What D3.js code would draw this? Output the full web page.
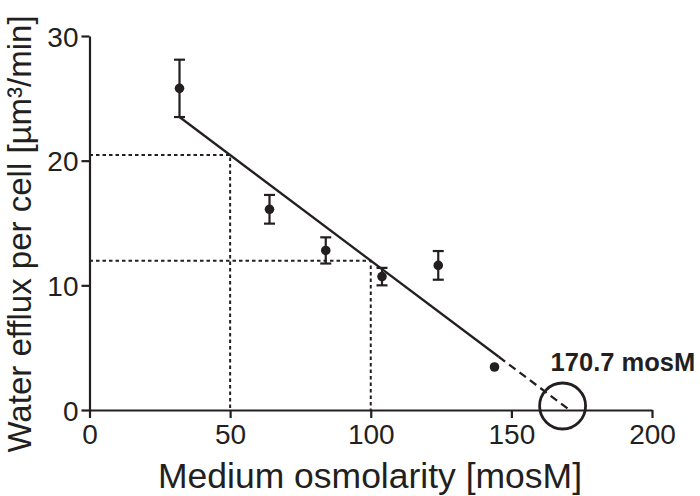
<!DOCTYPE html>
<html>
<head>
<meta charset="utf-8">
<script src="https://cdn.jsdelivr.net/npm/d3@7"></script>
<style>
  body { margin: 0; background: #fff; }
  svg { font-family: "Liberation Sans", Arial, sans-serif; }
</style>
</head>
<body>
<div id="chart"></div>
<script>
const svgWidth = 700;
const svgHeight = 496;

// data
const osmolarity = [32, 64, 84, 104, 124, 144];
const efflux = [25.8, 16.1, 12.8, 10.7, 11.6, 3.45];
const errors = [2.3, 1.15, 1.05, 0.7, 1.15, 0];
const xTicks = [0, 50, 100, 150, 200];
const yTicks = [0, 10, 20, 30];
const intercept = 170.7;       // x-intercept of the fit
const fitStart = 32;           // fit line starts here
const fitSolidEnd = 145.5;     // solid part ends, dashed extrapolation after
const fitAt32 = 23.5;          // fit value at x = 32
const guideX = [50, 100];      // dotted read-off lines

const margin = {top: 36, left: 89.5};
const width = 652 - margin.left;
const height = 410 - margin.top;

const x = d3.scaleLinear().domain([0, 200]).range([0, width]);
const y = d3.scaleLinear().domain([0, 30]).range([height, 0]);

const slope = fitAt32 / (intercept - fitStart);
const fit = v => slope * (intercept - v);

const svg = d3.select("#chart")
    .append("svg")
    .attr("width", svgWidth)
    .attr("height", svgHeight);

const g = svg.append("g")
    .attr("transform", "translate(" + margin.left + "," + margin.top + ")");

const ink = "#231f20";

// dotted read-off lines
guideX.forEach(function (gx) {
    const gy = fit(gx);
    g.append("path")
        .attr("d", "M" + x(0) + "," + y(gy) + "H" + x(gx) + "V" + y(0))
        .attr("fill", "none")
        .attr("stroke", ink)
        .attr("stroke-width", 2)
        .attr("stroke-dasharray", "3.5,3");
});

// axes
const xAxis = g.append("g")
    .attr("transform", "translate(0," + height + ")")
    .call(d3.axisBottom(x).tickValues(xTicks).tickSize(8).tickPadding(6).tickSizeOuter(0));
const yAxis = g.append("g")
    .call(d3.axisLeft(y).tickValues(yTicks).tickSize(8).tickPadding(3).tickSizeOuter(0));

[xAxis, yAxis].forEach(function (a) {
    a.select(".domain").attr("stroke", ink).attr("stroke-width", 2.2);
    a.selectAll(".tick line").attr("stroke", ink).attr("stroke-width", 2.2);
    a.selectAll(".tick text")
        .attr("fill", ink)
        .style("font-size", "28px")
        .style("font-family", "'Liberation Sans', Arial, sans-serif");
});
yAxis.selectAll(".tick text").attr("dy", "0.36em");

// fit line: solid over the data, dashed extrapolation to the intercept
g.append("line")
    .attr("x1", x(fitStart)).attr("y1", y(fit(fitStart)))
    .attr("x2", x(fitSolidEnd)).attr("y2", y(fit(fitSolidEnd)))
    .attr("stroke", ink).attr("stroke-width", 2.3);
g.append("line")
    .attr("x1", x(fitSolidEnd)).attr("y1", y(fit(fitSolidEnd)))
    .attr("x2", x(intercept)).attr("y2", y(0))
    .attr("stroke", ink).attr("stroke-width", 2.3)
    .attr("stroke-dasharray", "8,5");

// error bars
const bars = g.selectAll(".err")
    .data(osmolarity.map((d, i) => ({x: d, y: efflux[i], e: errors[i]})).filter(d => d.e > 0))
    .enter().append("g")
    .attr("class", "err");
bars.append("line")
    .attr("x1", d => x(d.x)).attr("x2", d => x(d.x))
    .attr("y1", d => y(d.y + d.e)).attr("y2", d => y(d.y - d.e))
    .attr("stroke", ink).attr("stroke-width", 2.2);
bars.selectAll(".cap")
    .data(d => [{x: d.x, v: d.y + d.e}, {x: d.x, v: d.y - d.e}])
    .enter().append("line")
    .attr("x1", d => x(d.x) - 5.5).attr("x2", d => x(d.x) + 5.5)
    .attr("y1", d => y(d.v)).attr("y2", d => y(d.v))
    .attr("stroke", ink).attr("stroke-width", 2.2);

// points
g.selectAll(".pt")
    .data(osmolarity)
    .enter().append("circle")
    .attr("cx", d => x(d))
    .attr("cy", (d, i) => y(efflux[i]))
    .attr("r", 4.8)
    .attr("fill", ink);

// circle marking the intercept
g.append("circle")
    .attr("cx", x(intercept) - 7)
    .attr("cy", y(0) - 4)
    .attr("r", 23)
    .attr("fill", "none")
    .attr("stroke", ink)
    .attr("stroke-width", 2.8);

g.append("text")
    .attr("x", x(intercept) - 19)
    .attr("y", y(0) - 39)
    .attr("fill", ink)
    .style("font-size", "25.5px")
    .style("font-weight", "bold")
    .text(intercept + " mosM");

// axis titles
svg.append("text")
    .attr("x", 370)
    .attr("y", 488)
    .attr("text-anchor", "middle")
    .attr("fill", ink)
    .style("font-size", "35.5px")
    .text("Medium osmolarity [mosM]");

svg.append("text")
    .attr("transform", "translate(31,234) rotate(-90)")
    .attr("text-anchor", "middle")
    .attr("fill", ink)
    .style("font-size", "33px")
    .text("Water efflux per cell [µm³/min]");
</script>
</body>
</html>
